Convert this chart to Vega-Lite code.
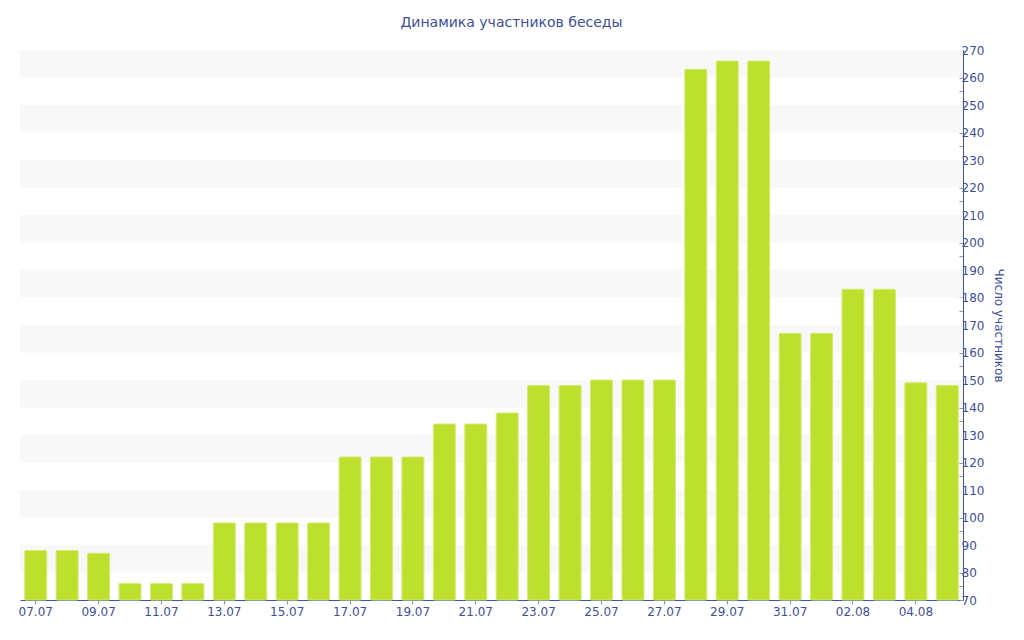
{
  "$schema": "https://vega.github.io/schema/vega-lite/v6.json",
  "width": 943,
  "height": 550,
  "autosize": {"type": "none"},
  "padding": {"left": 20, "top": 50, "right": 61, "bottom": 40},
  "background": "white",
  "title": {
    "text": "Динамика участников беседы",
    "font": "DejaVu Sans",
    "fontSize": 14,
    "fontWeight": "normal",
    "color": "#3d4f9a",
    "anchor": "middle",
    "dx": 20,
    "offset": 14
  },
  "config": {
    "view": {"stroke": null},
    "axis": {
      "labelFont": "DejaVu Sans",
      "labelFontSize": 12,
      "labelColor": "#3d4f9a",
      "titleFont": "DejaVu Sans",
      "titleFontSize": 12,
      "titleFontWeight": "normal",
      "titleColor": "#3d4f9a",
      "domainColor": "#3d56a6",
      "domainWidth": 1,
      "tickColor": "#8a93b8",
      "grid": false
    }
  },
  "datasets": {
    "bands": [
      {"lo": 80, "hi": 90}, {"lo": 100, "hi": 110}, {"lo": 120, "hi": 130},
      {"lo": 140, "hi": 150}, {"lo": 160, "hi": 170}, {"lo": 180, "hi": 190},
      {"lo": 200, "hi": 210}, {"lo": 220, "hi": 230}, {"lo": 240, "hi": 250},
      {"lo": 260, "hi": 270}
    ],
    "members": [
      {"day": "07.07", "n": 88}, {"day": "08.07", "n": 88}, {"day": "09.07", "n": 87},
      {"day": "10.07", "n": 76}, {"day": "11.07", "n": 76}, {"day": "12.07", "n": 76},
      {"day": "13.07", "n": 98}, {"day": "14.07", "n": 98}, {"day": "15.07", "n": 98},
      {"day": "16.07", "n": 98}, {"day": "17.07", "n": 122}, {"day": "18.07", "n": 122},
      {"day": "19.07", "n": 122}, {"day": "20.07", "n": 134}, {"day": "21.07", "n": 134},
      {"day": "22.07", "n": 138}, {"day": "23.07", "n": 148}, {"day": "24.07", "n": 148},
      {"day": "25.07", "n": 150}, {"day": "26.07", "n": 150}, {"day": "27.07", "n": 150},
      {"day": "28.07", "n": 263}, {"day": "29.07", "n": 266}, {"day": "30.07", "n": 266},
      {"day": "31.07", "n": 167}, {"day": "01.08", "n": 167}, {"day": "02.08", "n": 183},
      {"day": "03.08", "n": 183}, {"day": "04.08", "n": 149}, {"day": "05.08", "n": 148}
    ]
  },
  "layer": [
    {
      "data": {"name": "bands"},
      "mark": {"type": "rect", "color": "#f8f8f8"},
      "encoding": {
        "y": {
          "field": "lo",
          "type": "quantitative",
          "scale": {"domain": [70, 270], "zero": false, "nice": false},
          "axis": {
            "orient": "right",
            "title": "Число участников",
            "titleAngle": 90,
            "titlePadding": 8,
            "labelOverlap": false,
            "labelFlush": false,
            "labelBound": false,
            "values": [70, 75, 80, 85, 90, 95, 100, 105, 110, 115, 120, 125, 130, 135, 140, 145, 150, 155, 160, 165, 170, 175, 180, 185, 190, 195, 200, 205, 210, 215, 220, 225, 230, 235, 240, 245, 250, 255, 260, 265, 270],
            "labelExpr": "datum.value % 10 == 0 ? datum.label : ''",
            "tickSize": -4,
            "labelPadding": 2
          }
        },
        "y2": {"field": "hi"}
      }
    },
    {
      "data": {"name": "members"},
      "mark": {"type": "bar", "color": "#bde02f", "stroke": "#d4ec72", "strokeWidth": 1, "cornerRadius": 1},
      "encoding": {
        "x": {
          "field": "day",
          "type": "ordinal",
          "sort": null,
          "scale": {"paddingInner": 0.3, "paddingOuter": 0.15},
          "axis": {
            "title": null,
            "labelAngle": 0,
            "labelOverlap": false,
            "values": ["07.07", "09.07", "11.07", "13.07", "15.07", "17.07", "19.07", "21.07", "23.07", "25.07", "27.07", "29.07", "31.07", "02.08", "04.08"],
            "tickSize": 4,
            "labelPadding": 2
          }
        },
        "y": {
          "field": "n",
          "type": "quantitative",
          "scale": {"domain": [70, 270], "zero": false, "nice": false},
          "axis": {
            "orient": "right",
            "title": "Число участников",
            "titleAngle": 90,
            "titlePadding": 8,
            "labelOverlap": false,
            "labelFlush": false,
            "labelBound": false,
            "values": [70, 75, 80, 85, 90, 95, 100, 105, 110, 115, 120, 125, 130, 135, 140, 145, 150, 155, 160, 165, 170, 175, 180, 185, 190, 195, 200, 205, 210, 215, 220, 225, 230, 235, 240, 245, 250, 255, 260, 265, 270],
            "labelExpr": "datum.value % 10 == 0 ? datum.label : ''",
            "tickSize": -4,
            "labelPadding": 2
          }
        },
        "y2": {"datum": 70}
      }
    }
  ]
}
